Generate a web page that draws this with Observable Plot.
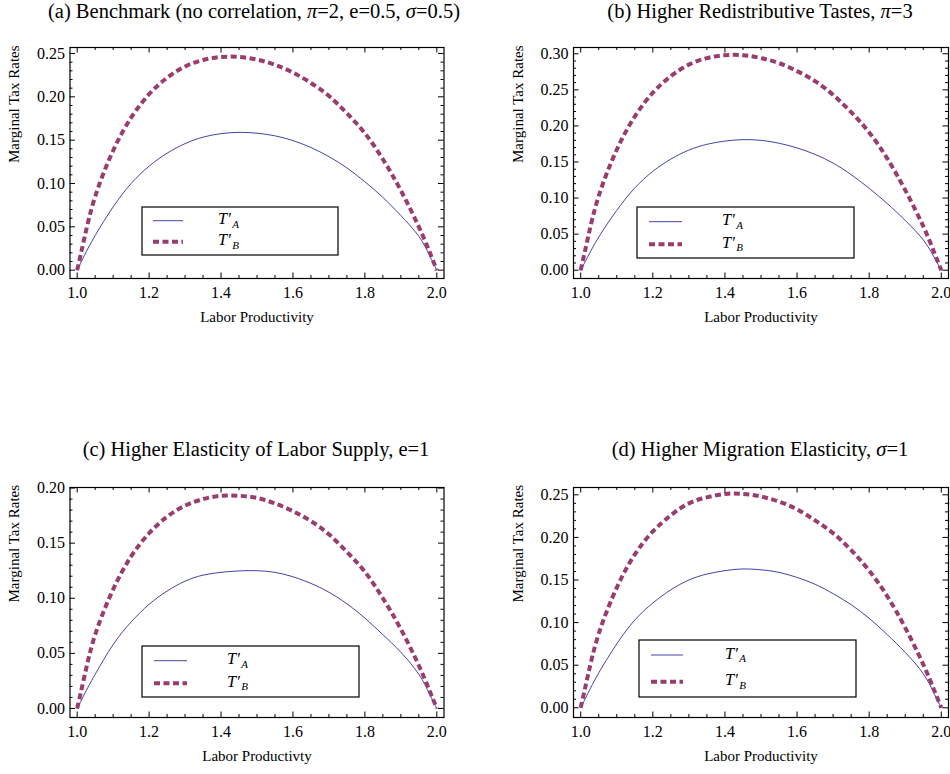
<!DOCTYPE html>
<html><head><meta charset="utf-8">
<script src="https://cdn.jsdelivr.net/npm/d3@7"></script>
<script src="https://cdn.jsdelivr.net/npm/@observablehq/plot@0.6"></script>
<style>
html,body{margin:0;padding:0;background:#fff;}
#chart{position:relative;width:950px;height:774px;overflow:hidden;font-family:"Liberation Serif","Times New Roman",serif;background:#fff;}
.panel{position:absolute;}
.title{position:absolute;width:475px;text-align:center;font-size:20.5px;line-height:22px;color:#000;white-space:nowrap;}
.legend{position:absolute;left:0;top:0;overflow:visible;}
</style></head><body><div id="chart"></div>
<script>
// Labor productivity grid (x values read at these points)
const xs = [1.00,1.02,1.05,1.10,1.15,1.20,1.25,1.30,1.35,1.40,1.45,1.50,1.55,1.60,1.65,1.70,1.75,1.80,1.85,1.90,1.95,1.98,2.00];
// (a) Benchmark
const aTA = [0,.017,.040,.073,.100,.120,.135,.146,.1535,.1575,.159,.158,.155,.1495,.1415,.131,.118,.102,.084,.063,.039,.017,0];
const aTB = [0,.037,.085,.138,.176,.203,.222,.235,.2425,.246,.246,.243,.237,.228,.216,.201,.181,.158,.128,.092,.050,.021,0];
// (b) Higher redistributive tastes
const bTA = [0,.019,.046,.083,.114,.137,.154,.1665,.1745,.179,.181,.180,.176,.1695,.1605,.1485,.1325,.1135,.0925,.069,.042,.018,0];
const bTB = [0,.045,.103,.167,.213,.246,.269,.285,.294,.298,.298,.294,.287,.276,.262,.243,.219,.191,.155,.111,.061,.025,0];
// (c) Higher elasticity of labor supply
const cTA = [0,.013,.031,.058,.0785,.0945,.1065,.1155,.121,.1235,.1248,.125,.1235,.1195,.1135,.1055,.095,.082,.067,.051,.031,.013,0];
const cTB = [0,.029,.067,.108,.138,.159,.174,.184,.190,.193,.193,.191,.186,.179,.170,.158,.142,.124,.100,.072,.039,.016,0];
// (d) Higher migration elasticity
const dTA = [0,.017,.041,.075,.103,.123,.1385,.150,.157,.161,.163,.162,.159,.153,.145,.134,.121,.105,.086,.065,.040,.017,0];
const dTB = [0,.038,.087,.141,.180,.207,.226,.240,.247,.251,.251,.248,.242,.233,.220,.205,.185,.161,.131,.094,.051,.021,0];

const xTicks = [1.0,1.2,1.4,1.6,1.8,2.0];
const yTicksA = [0,0.05,0.10,0.15,0.20,0.25];
const yTicksB = [0,0.05,0.10,0.15,0.20,0.25,0.30];
const yTicksC = [0,0.05,0.10,0.15,0.20];
const yTicksD = [0,0.05,0.10,0.15,0.20,0.25];

const titles = [
  '(a) Benchmark (no correlation, <i>π</i>=2, e=0.5, <i>σ</i>=0.5)',
  '(b) Higher Redistributive Tastes, <i>π</i>=3',
  '(c) Higher Elasticity of Labor Supply, e=1',
  '(d) Higher Migration Elasticity, <i>σ</i>=1'
];
const xLabels = ["Labor Productivity","Labor Productivity","Labor Productivty","Labor Productivity"];
const yLabel = "Marginal Tax Rates";
const seriesNames = ["A","B"];

const colorA = "#4444aa";
const colorB = "#993d6e";
const dash = "6,3.5";

const panels = [
  {TA:aTA, TB:aTB, yTicks:yTicksA, yDomain:[-0.0096,0.2569], left:0, top:0, mL:69.5, mR:31.5, mT:47, mB:56, titleTop:0, titleCx:254,
   legend:{x:142,y:207,w:196,h:48,lx0:153,lx1:183,ya:220.7,yb:241.7,tx:218}},
  {TA:bTA, TB:bTB, yTicks:yTicksB, yDomain:[-0.0115,0.3087], left:475, top:0, mL:98, mR:2, mT:47, mB:56, titleTop:0, titleCx:760,
   legend:{x:637,y:207,w:217,h:51,lx0:649,lx1:682,ya:221.7,yb:244.3,tx:722}},
  {TA:cTA, TB:cTB, yTicks:yTicksC, yDomain:[-0.0082,0.2005], left:0, top:440, mL:69.5, mR:31.5, mT:47, mB:57, titleTop:438, titleCx:256,
   legend:{x:142,y:646,w:217,h:51,lx0:154,lx1:187,ya:660.7,yb:683.3,tx:227}},
  {TA:dTA, TB:dTB, yTicks:yTicksD, yDomain:[-0.0114,0.2586], left:475, top:440, mL:98, mR:2, mT:47, mB:57, titleTop:438, titleCx:760,
   legend:{x:639,y:640,w:217,h:57,lx0:651,lx1:683,ya:655,yb:681.7,tx:725}}
];

const chart = document.getElementById("chart");
const W0 = 475, H0 = 334;
const xDomain = [0.98, 2.02];
const majLen = 5.5, minLen = 3;

function minorTicks(lo, hi, step, majors) {
  const out = [];
  const n0 = Math.ceil(lo / step - 1e-9), n1 = Math.floor(hi / step + 1e-9);
  for (let i = n0; i <= n1; i++) {
    const v = +(i * step).toFixed(6);
    if (!majors.some(m => Math.abs(m - v) < 1e-9)) out.push(v);
  }
  return out;
}

panels.forEach((p, i) => {
  const W = W0 - p.mL - p.mR, H = H0 - p.mT - p.mB;
  const data = xs.flatMap((x, j) => [
    {x, y: p.TA[j], s: "A"},
    {x, y: p.TB[j], s: "B"}
  ]);
  const xMin = minorTicks(1.0, 2.0, 0.05, xTicks);
  const yMin = minorTicks(0, p.yDomain[1], 0.01, p.yTicks);
  const svg = Plot.plot({
    width: W0, height: H0,
    marginLeft: p.mL, marginRight: p.mR, marginTop: p.mT, marginBottom: p.mB,
    style: {fontFamily: '"Liberation Serif","Times New Roman",serif', fontSize: "16px", background: "transparent", overflow: "visible"},
    x: {domain: xDomain, ticks: xTicks, tickSize: 0, tickPadding: 8, tickFormat: ".1f", label: null},
    y: {domain: p.yDomain, ticks: p.yTicks, tickSize: 0, tickPadding: 5, tickFormat: ".2f", label: null},
    marks: [
      Plot.line(data.filter(d => d.s === "A"), {x: "x", y: "y", stroke: colorA, strokeWidth: 1, curve: "natural"}),
      Plot.line(data.filter(d => d.s === "B"), {x: "x", y: "y", stroke: colorB, strokeWidth: 4, strokeDasharray: dash, strokeLinecap: "butt", strokeLinejoin: "miter", curve: "natural"}),
      // inward frame ticks (Mathematica style)
      Plot.tickX(xTicks, {x: d => d, insetTop: H - majLen, stroke: "black"}),
      Plot.tickX(xTicks, {x: d => d, insetBottom: H - majLen, stroke: "black"}),
      Plot.tickX(xMin, {x: d => d, insetTop: H - minLen, stroke: "black"}),
      Plot.tickX(xMin, {x: d => d, insetBottom: H - minLen, stroke: "black"}),
      Plot.tickY(p.yTicks, {y: d => d, insetRight: W - majLen, stroke: "black"}),
      Plot.tickY(p.yTicks, {y: d => d, insetLeft: W - majLen, stroke: "black"}),
      Plot.tickY(yMin, {y: d => d, insetRight: W - minLen, stroke: "black"}),
      Plot.tickY(yMin, {y: d => d, insetLeft: W - minLen, stroke: "black"}),
      Plot.frame({stroke: "black", strokeWidth: 1.2}),
      Plot.text([xLabels[i]], {frameAnchor: "bottom", dy: 43.5, text: d => d, fontSize: 15, fill: "black"}),
      Plot.text([yLabel], {frameAnchor: "left", dx: -55.5, rotate: -90, text: d => d, fontSize: 15, fill: "black"})
    ]
  });
  svg.classList.add("panel");
  svg.style.left = p.left + "px";
  svg.style.top = p.top + "px";
  chart.appendChild(svg);

  const t = document.createElement("div");
  t.className = "title";
  t.innerHTML = titles[i];
  t.style.left = (p.titleCx - 237.5) + "px";
  t.style.top = p.titleTop + "px";
  chart.appendChild(t);
});

// legends (boxed, inside each panel)
const ns = "http://www.w3.org/2000/svg";
const lg = document.createElementNS(ns, "svg");
lg.setAttribute("class", "legend");
lg.setAttribute("width", 950);
lg.setAttribute("height", 774);
chart.appendChild(lg);
panels.forEach(p => {
  const L = p.legend;
  const g = d3.select(lg).append("g");
  g.append("rect").attr("x", L.x).attr("y", L.y).attr("width", L.w).attr("height", L.h)
    .attr("fill", "white").attr("stroke", "black").attr("stroke-width", 1.2);
  seriesNames.forEach((s, k) => {
    const yy = k === 0 ? L.ya : L.yb;
    g.append("line").attr("x1", L.lx0).attr("x2", L.lx1).attr("y1", yy).attr("y2", yy)
      .attr("stroke", k === 0 ? colorA : colorB).attr("stroke-width", k === 0 ? 1 : 4)
      .attr("stroke-dasharray", k === 0 ? null : dash);
    const tx = g.append("text").attr("x", L.tx).attr("y", yy + 3.5)
      .attr("font-family", '"Liberation Serif","Times New Roman",serif')
      .attr("font-style", "italic").attr("font-size", 16.5).attr("fill", "black");
    tx.append("tspan").text("T\u2032");
    tx.append("tspan").attr("dx", 1.5).attr("dy", 3.5).attr("font-size", 11).text(s);
  });
});
</script>
</body></html>
